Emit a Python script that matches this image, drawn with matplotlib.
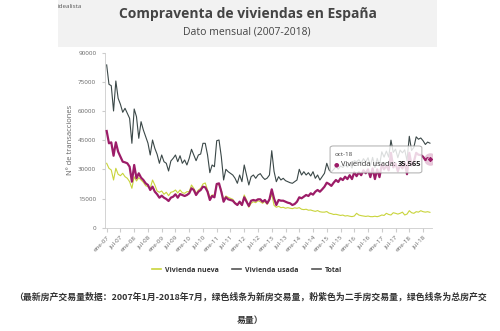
import matplotlib
matplotlib.use('Agg')
import matplotlib.pyplot as plt
import numpy as np
from matplotlib.patches import Rectangle, FancyBboxPatch
from matplotlib.lines import Line2D
from matplotlib.transforms import offset_copy

tick_labels = ['ene-07', 'jul-07', 'ene-08', 'jul-08', 'ene-09', 'jul-09', 'ene-10', 'jul-10',
               'ene-11', 'jul-11', 'ene-12', 'jul-12', 'ene-13', 'jul-13', 'ene-14', 'jul-14',
               'ene-15', 'jul-15', 'ene-16', 'jul-16', 'ene-17', 'jul-17', 'ene-18', 'jul-18']

nueva = [33120, 30550, 29670, 24530, 30550, 27460, 26740, 27980, 26230, 25400, 23660, 20260,
         26230, 24020, 25720, 24530, 23350, 21600, 21090, 20260, 24530, 21960, 18870, 18210,
         18870, 17180, 18210, 16460, 18210, 18520, 19390, 17860, 19400, 18000, 17690, 18520,
         18520, 21960, 20260, 17690, 19390, 20260, 22470, 23000, 19390, 15630, 16820, 16820,
         22470, 21960, 19390, 14250, 16300, 15630, 15120, 14600, 12860, 12190, 12550, 11670,
         16820, 14250, 10490, 12550, 13370, 12860, 13890, 13370, 12550, 13500, 12000, 14000,
         17300, 11500, 10500, 11000, 10300, 10500, 10000, 10300, 10000, 9800, 10200, 10000,
         10300, 9500, 9300, 9500, 9000, 9100, 8700, 8400, 8800, 8200, 8000, 8000,
         8300, 7500, 7200, 6800, 6900, 6600, 6300, 6500, 6000, 6200, 5900, 5700,
         6000, 7400, 6500, 6200, 6000, 5800, 6000, 5700, 5660, 5900, 5660, 6000,
         6530, 6300, 7400, 6800, 6530, 7700, 7400, 7000, 7400, 8000, 6530, 7000,
         8740, 7700, 7400, 8230, 8000, 8740, 8230, 8000, 8230, 7900]

usada = [49730, 43400, 43900, 37000, 43900, 39090, 36510, 33940, 33600, 33120, 31370, 23660,
         32250, 25400, 27980, 25720, 24530, 22830, 21960, 19390, 21090, 18520, 17180, 15430,
         16460, 15430, 14760, 13730, 15430, 15940, 17180, 15430, 17300, 16820, 16300, 16820,
         17690, 20260, 19390, 16820, 18520, 19390, 21090, 20760, 18520, 14250, 16300, 15630,
         22470, 22800, 18520, 13370, 15630, 14600, 14250, 13890, 12550, 11670, 13370, 11670,
         15630, 13370, 11160, 13890, 14250, 13890, 14600, 14600, 13370, 14250, 12550, 14600,
         19730, 15000, 11670, 14250, 13890, 13890, 13370, 12860, 12550, 11670, 12190, 13370,
         15630, 15120, 15940, 16820, 16300, 17690, 17000, 18520, 19390, 18500, 19730, 21090,
         23140, 22470, 21500, 23140, 24530, 23500, 25400, 24500, 26230, 25000, 27000, 25000,
         28500, 26500, 28500, 27000, 29500, 28000, 30000, 26000, 30500, 25000, 30000, 26000,
         32500, 30000, 32000, 29500, 38500, 31000, 33000, 29000, 32500, 30500, 33500, 27500,
         38500, 32000, 34000, 38500, 37500, 37400, 36500, 34800, 35800, 35565]

total = [83700, 73750, 73030, 60020, 75450, 66550, 63460, 59350, 61400, 58830, 56260, 43400,
         61050, 57090, 45980, 54520, 50250, 46800, 43500, 37390, 45100, 40830, 37750, 33120,
         37390, 33940, 33120, 29160, 34300, 35690, 37390, 33940, 37000, 33120, 34820, 32250,
         35690, 40320, 37390, 34460, 37390, 37900, 43400, 43400, 37390, 28290, 32250, 31370,
         44740, 45100, 36510, 24530, 30030, 28800, 27980, 27100, 25400, 22830, 27100, 23660,
         32250, 27100, 21960, 26230, 27100, 25400, 27100, 27800, 26000, 24800, 25500, 27100,
         39600, 29000, 23660, 26230, 24530, 25400, 24190, 23660, 23140, 22830, 23660, 24530,
         30030, 27100, 28800, 27100, 28290, 26590, 28800, 25400, 27100, 24530, 26230, 27980,
         33120, 29700, 28700, 29940, 31430, 30100, 31700, 31000, 32230, 31200, 32900, 30700,
         34500, 33900, 35000, 33200, 35500, 33800, 36000, 31700, 36160, 30900, 35660, 32000,
         39030, 36300, 39400, 36300, 45030, 38700, 40400, 36000, 39900, 38500, 40030, 34500,
         47000, 39700, 41400, 46730, 45500, 46140, 44730, 42800, 44030, 43465]

y_ticks = [0, 15000, 30000, 45000, 60000, 75000, 90000]
tooltip_month = 'oct-18'
tooltip_series = 'Vivienda usada: '
tooltip_value = '35.565'

LATIN = ['Open Sans', 'DejaVu Sans']
CJK = ['Noto Sans CJK SC', 'DejaVu Sans']

c_nueva = '#c9d43c'
c_usada = '#9c1c68'
c_total = '#3b4848'

fig = plt.figure(figsize=(5, 3.31), dpi=100)
fig.patch.set_facecolor('white')
fig.add_artist(Rectangle((58 / 500, 1 - 47 / 331), (437 - 58) / 500, 47 / 331,
                         transform=fig.transFigure, facecolor='#f2f2f2',
                         edgecolor='none', zorder=0))

ax = fig.add_axes([0.2106, 0.3121, 0.6534, 0.5287])
ax.set_facecolor('none')
x = np.arange(len(total))
ax.plot(x, nueva, color=c_nueva, lw=0.8, zorder=2)
ax.plot(x, usada, color=c_usada, lw=1.6, zorder=3)
ax.plot(x, total, color=c_total, lw=0.8, zorder=2)

ax.plot(x[-1], usada[-1], 'o', ms=9, color=c_usada, alpha=0.25, mec='none', zorder=6)
ax.plot(x[-1], usada[-1], 'D', ms=3.5, color=c_usada, mec='white', mew=0.4, zorder=7)

ax.set_xlim(-0.6, 141.9)
ax.set_ylim(0, 90000)
ax.set_yticks(y_ticks)
ax.set_yticklabels([str(v) for v in y_ticks], fontsize=4.5, color='#666666', family=LATIN)
ax.set_xticks(np.arange(0, 6 * len(tick_labels), 6))
ax.set_xticklabels(tick_labels, rotation=45, ha='right', rotation_mode='anchor',
                   fontsize=4.5, color='#666666', family=LATIN)
ax.tick_params(axis='y', length=2.5, color='#cccccc', pad=4)
ax.tick_params(axis='x', length=3, color='#cccccc', pad=2)
for s in ['top', 'right']:
    ax.spines[s].set_visible(False)
for s in ['left', 'bottom']:
    ax.spines[s].set_color('#cccccc')
    ax.spines[s].set_linewidth(0.6)
ax.set_ylabel('Nº de transacciones', fontsize=5.5, color='#666666', family=LATIN, labelpad=3)

# tooltip
tip = FancyBboxPatch((0.688, 0.313), 0.281, 0.154, boxstyle='round,pad=0,rounding_size=0.01',
                     transform=ax.transAxes, facecolor='white', alpha=0.82,
                     edgecolor='#9a9a9a', lw=0.7, zorder=8)
ax.add_patch(tip)
ax.text(0.703, 0.418, tooltip_month, transform=ax.transAxes, fontsize=4.5, color='#444444',
        family=LATIN, va='center', ha='left', zorder=9)
ax.text(0.700, 0.36, '●', transform=ax.transAxes, fontsize=4.5, color=c_usada,
        family=['DejaVu Sans'], va='center', ha='left', zorder=9)
t_series = ax.text(0.722, 0.36, tooltip_series, transform=ax.transAxes, fontsize=5.4,
                   color='#333333', family=LATIN, va='center', ha='left', zorder=9)
fig.canvas.draw()
bb = t_series.get_window_extent(renderer=fig.canvas.get_renderer())
x_end = ax.transAxes.inverted().transform((bb.x1, bb.y0))[0]
ax.text(x_end, 0.36, tooltip_value, transform=ax.transAxes, fontsize=5.4, color='#222222',
        family=LATIN, fontweight='bold', va='center', ha='left', zorder=9)

# header
fig.text(0.116, 1 - 7 / 331, 'idealista', fontsize=4.5, color='#555555', family=LATIN,
         ha='left', va='center')
fig.text(0.495, 1 - 14 / 331, 'Compraventa de viviendas en España', fontsize=10,
         fontweight='bold', color='#444444', family=LATIN, ha='center', va='center')
fig.text(0.494, 1 - 32 / 331, 'Dato mensual (2007-2018)', fontsize=7.5, color='#444444',
         family=LATIN, ha='center', va='center')

# legend
handles = [Line2D([], [], color=c_nueva, lw=1.2), Line2D([], [], color='#555555', lw=1.2),
           Line2D([], [], color='#555555', lw=1.2)]
fig.legend(handles, ['Vivienda nueva', 'Vivienda usada', 'Total'], loc='center',
           bbox_to_anchor=(0.494, 1 - 270 / 331), ncol=3, frameon=False,
           prop={'family': LATIN, 'size': 5, 'weight': 'bold'}, handlelength=1.3,
           columnspacing=2.0, handletextpad=0.5, labelcolor='#333333')

# caption
fig.text(0.5, 1 - 297 / 331,
         '（最新房产交易量数据：2007年1月-2018年7月，绿色线条为新房交易量，粉紫色为二手房交易量，绿色线条为总房产交',
         fontsize=6.4, fontweight='bold', color='#333333', family=CJK, ha='center', va='center')
fig.text(0.5, 1 - 320 / 331, '易量）', fontsize=6.4, fontweight='bold', color='#333333',
         family=CJK, ha='center', va='center')

fig.savefig('out.png', dpi=100, facecolor='white')
